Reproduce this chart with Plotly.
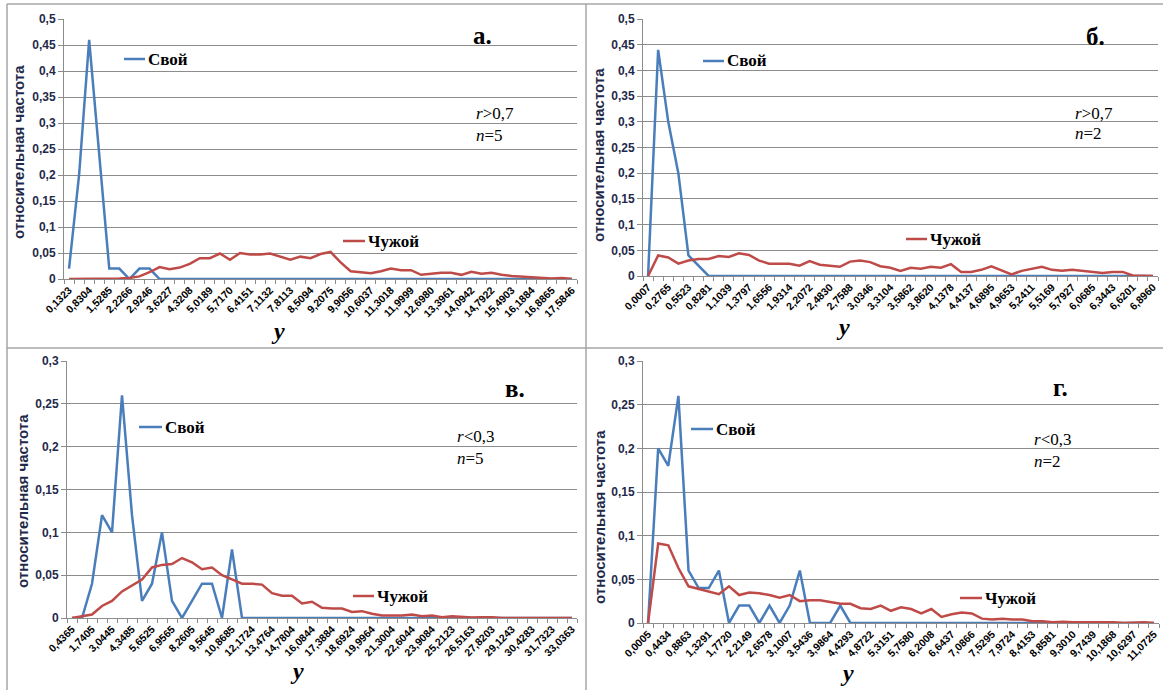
import plotly.graph_objects as go

W, H = 1163, 690

# ---------------- data ----------------
ticks_a = ["0,1323", "0,8304", "1,5285", "2,2266", "2,9246", "3,6227", "4,3208", "5,0189", "5,7170",
           "6,4151", "7,1132", "7,8113", "8,5094", "9,2075", "9,9056", "10,6037", "11,3018", "11,9999",
           "12,6980", "13,3961", "14,0942", "14,7922", "15,4903", "16,1884", "16,8865", "17,5846"]
svoi_a = [0.02, 0.2, 0.46, 0.24, 0.02, 0.02, 0, 0.02, 0.02, 0] + [0] * 41
chuzhoi_a = [0, 0, 0, 0, 0, 0.001, 0.002, 0.005, 0.013, 0.023, 0.019, 0.022, 0.029, 0.04, 0.04, 0.049,
             0.037, 0.05, 0.047, 0.047, 0.049, 0.043, 0.037, 0.043, 0.04, 0.048, 0.052, 0.032, 0.015,
             0.013, 0.011, 0.015, 0.02, 0.017, 0.017, 0.008, 0.01, 0.012, 0.012, 0.008, 0.014, 0.01,
             0.012, 0.008, 0.006, 0.005, 0.004, 0.002, 0.001, 0.002, 0]

ticks_b = ["0,0007", "0,2765", "0,5523", "0,8281", "1,1039", "1,3797", "1,6556", "1,9314", "2,2072",
           "2,4830", "2,7588", "3,0346", "3,3104", "3,5862", "3,8620", "4,1378", "4,4137", "4,6895",
           "4,9653", "5,2411", "5,5169", "5,7927", "6,0685", "6,3443", "6,6201", "6,8960"]
svoi_b = [0, 0.44, 0.3, 0.2, 0.04, 0.02, 0] + [0] * 44
chuzhoi_b = [0, 0.04, 0.036, 0.024, 0.03, 0.033, 0.033, 0.039, 0.037, 0.044, 0.041, 0.03, 0.024, 0.024,
             0.024, 0.02, 0.029, 0.022, 0.02, 0.018, 0.028, 0.03, 0.027, 0.019, 0.016, 0.01, 0.016,
             0.014, 0.018, 0.016, 0.023, 0.008, 0.008, 0.012, 0.019, 0.011, 0.003, 0.01, 0.014, 0.018,
             0.012, 0.01, 0.012, 0.01, 0.008, 0.006, 0.008, 0.008, 0.001, 0.001, 0]

ticks_c = ["0,4365", "1,7405", "3,0445", "4,3485", "5,6525", "6,9565", "8,2605", "9,5645", "10,8685",
           "12,1724", "13,4764", "14,7804", "16,0844", "17,3884", "18,6924", "19,9964", "21,3004",
           "22,6044", "23,9084", "25,2123", "26,5163", "27,8203", "29,1243", "30,4283", "31,7323", "33,0363"]
svoi_c = [0, 0, 0.04, 0.12, 0.1, 0.26, 0.12, 0.02, 0.04, 0.1, 0.02, 0, 0.02, 0.04, 0.04, 0, 0.08, 0] + [0] * 33
chuzhoi_c = [0, 0.002, 0.004, 0.014, 0.02, 0.031, 0.038, 0.045, 0.059, 0.062, 0.063, 0.07, 0.065, 0.057,
             0.059, 0.05, 0.045, 0.04, 0.04, 0.039, 0.029, 0.026, 0.026, 0.017, 0.019, 0.012, 0.011,
             0.011, 0.007, 0.008, 0.005, 0.003, 0.003, 0.003, 0.004, 0.002, 0.003, 0.001, 0.002, 0.001,
             0.0005, 0.001, 0.001] + [0] * 8

ticks_d = ["0,0005", "0,4434", "0,8863", "1,3291", "1,7720", "2,2149", "2,6578", "3,1007", "3,5436",
           "3,9864", "4,4293", "4,8722", "5,3151", "5,7580", "6,2008", "6,6437", "7,0866", "7,5295",
           "7,9724", "8,4153", "8,8581", "9,3010", "9,7439", "10,1868", "10,6297", "11,0725"]
svoi_d = [0, 0.2, 0.18, 0.26, 0.06, 0.04, 0.04, 0.06, 0, 0.02, 0.02, 0, 0.02, 0, 0.02, 0.06, 0, 0, 0,
          0.02, 0] + [0] * 30
chuzhoi_d = [0, 0.091, 0.089, 0.063, 0.042, 0.039, 0.036, 0.033, 0.042, 0.032, 0.035, 0.034, 0.032,
             0.029, 0.032, 0.025, 0.026, 0.026, 0.024, 0.022, 0.022, 0.017, 0.016, 0.02, 0.014, 0.018,
             0.016, 0.011, 0.016, 0.007, 0.01, 0.012, 0.011, 0.005, 0.004, 0.005, 0.004, 0.004, 0.002,
             0.002, 0.001, 0.0015, 0.001, 0.001, 0.001, 0.001, 0.001, 0, 0.0005, 0.001, 0]

yticks_high = [0, 0.05, 0.1, 0.15, 0.2, 0.25, 0.3, 0.35, 0.4, 0.45, 0.5]
yticks_low = [0, 0.05, 0.1, 0.15, 0.2, 0.25, 0.3]

letters = ["а.", "б.", "в.", "г."]
r_texts = ["<i>r</i>&gt;0,7", "<i>r</i>&gt;0,7", "<i>r</i>&lt;0,3", "<i>r</i>&lt;0,3"]
n_texts = ["<i>n</i>=5", "<i>n</i>=2", "<i>n</i>=5", "<i>n</i>=2"]
y_title = "относительная частота"
x_title = "y"
name_svoi = "Свой"
name_chuzhoi = "Чужой"


def categories(labels):
    cats = []
    for k, lab in enumerate(labels):
        cats.append(lab)
        if k < len(labels) - 1:
            a = float(lab.replace(",", "."))
            b = float(labels[k + 1].replace(",", "."))
            cats.append(f"{(a + b) / 2:.4f}".replace(".", ","))
    return cats


def fmt(v):
    return ("%g" % v).replace(".", ",")


def px(x):
    return x / W


def py(y):
    return 1 - y / H


BLUE = "#4A7EBB"
RED = "#BE4B48"
GRID = "#8C8C8C"
AXIS = "#8C8C8C"
NAVY = "#1F2A4A"
SERIF = "Liberation Serif, Times New Roman, DejaVu Serif, serif"
SANS = "Liberation Sans, Arial, DejaVu Sans, sans-serif"

panels = [
    dict(t=ticks_a, s=svoi_a, c=chuzhoi_a, yt_vals=yticks_high, xd=(64, 577), yd=(19, 279),
         leg_s=(124, 145, 59), leg_c=(343, 365, 241), letter=(482, 35), r=(474, 113), n=(474, 135),
         yt=(18, 152), xt=(278, 331)),
    dict(t=ticks_b, s=svoi_b, c=chuzhoi_b, yt_vals=yticks_high, xd=(643, 1158), yd=(19, 276),
         leg_s=(703, 724, 61), leg_c=(906, 927, 239), letter=(1095, 36), r=(1073, 113), n=(1073, 133),
         yt=(598, 155), xt=(843, 327)),
    dict(t=ticks_c, s=svoi_c, c=chuzhoi_c, yt_vals=yticks_low, xd=(67, 577), yd=(361, 618),
         leg_s=(139, 162, 427), leg_c=(353, 374, 596), letter=(515, 388), r=(455, 436), n=(455, 458),
         yt=(22, 501), xt=(297, 671)),
    dict(t=ticks_d, s=svoi_d, c=chuzhoi_d, yt_vals=yticks_low, xd=(643, 1159), yd=(361, 623),
         leg_s=(691, 713, 429), leg_c=(960, 982, 598), letter=(1060, 387), r=(1032, 439), n=(1032, 461),
         yt=(599, 517), xt=(847, 673)),
]

fig = go.Figure()
shapes = []
annotations = []
layout = {}

for k, p in enumerate(panels):
    idx = "" if k == 0 else str(k + 1)
    xa, ya = "x" + idx, "y" + idx
    cats = categories(p["t"])
    fig.add_trace(go.Scatter(x=cats, y=p["s"], mode="lines", name=name_svoi,
                             line=dict(color=BLUE, width=2.5), xaxis=xa, yaxis=ya, showlegend=False))
    fig.add_trace(go.Scatter(x=cats, y=p["c"], mode="lines", name=name_chuzhoi,
                             line=dict(color=RED, width=2.5), xaxis=xa, yaxis=ya, showlegend=False))
    layout["xaxis" + idx] = dict(
        type="category", domain=[px(p["xd"][0]), px(p["xd"][1])], anchor=ya, automargin=False,
        range=[-0.5, len(cats) - 0.5], tickmode="array", tickvals=cats,
        ticktext=["<b>" + c + "</b>" if i % 2 == 0 else "" for i, c in enumerate(cats)],
        tickangle=-45, tickson="boundaries", ticks="outside", ticklen=4, tickcolor=AXIS,
        showgrid=False, showline=True, linecolor=AXIS, linewidth=1, zeroline=False,
        tickfont=dict(family=SANS, size=10.5, color="#000000"),
    )
    yv = p["yt_vals"]
    layout["yaxis" + idx] = dict(
        domain=[py(p["yd"][1]), py(p["yd"][0])], anchor=xa, automargin=False,
        range=[0, yv[-1]], tickmode="array", tickvals=yv, ticktext=["<b>" + fmt(v) + "</b>" for v in yv],
        ticks="outside", ticklen=5, tickcolor=AXIS, showgrid=True, gridcolor=GRID, gridwidth=1,
        showline=True, linecolor=AXIS, linewidth=1, zeroline=False,
        tickfont=dict(family=SANS, size=12, color=NAVY),
    )
    # legend-like labels
    for (x1, x2, yy), col, name in [(p["leg_s"], BLUE, name_svoi), (p["leg_c"], RED, name_chuzhoi)]:
        shapes.append(dict(type="line", xref="paper", yref="paper", x0=px(x1), x1=px(x2),
                           y0=py(yy), y1=py(yy), line=dict(color=col, width=2.5)))
        annotations.append(dict(text="<b>" + name + "</b>", xref="paper", yref="paper", x=px(x2 + 1),
                                y=py(yy), xanchor="left", yanchor="middle", showarrow=False,
                                font=dict(family=SERIF, size=17, color="#000000")))
    annotations.append(dict(text="<b>" + letters[k] + "</b>", xref="paper", yref="paper",
                            x=px(p["letter"][0]), y=py(p["letter"][1]), xanchor="center",
                            yanchor="middle", showarrow=False,
                            font=dict(family=SERIF, size=25, color="#000000")))
    for key, txt in [("r", r_texts[k]), ("n", n_texts[k])]:
        annotations.append(dict(text=txt, xref="paper", yref="paper", x=px(p[key][0]), y=py(p[key][1]),
                                xanchor="left", yanchor="middle", showarrow=False,
                                font=dict(family=SERIF, size=17, color="#000000")))
    annotations.append(dict(text="<b>" + y_title + "</b>", xref="paper", yref="paper",
                            x=px(p["yt"][0]), y=py(p["yt"][1]),
                            xanchor="center", yanchor="middle", textangle=-90, showarrow=False,
                            font=dict(family=SANS, size=15, color=NAVY)))
    annotations.append(dict(text="<b><i>" + x_title + "</i></b>", xref="paper", yref="paper",
                            x=px(p["xt"][0]), y=py(p["xt"][1]),
                            xanchor="center", yanchor="middle", showarrow=False,
                            font=dict(family=SERIF, size=24, color="#000000")))

# frame lines between the four charts
BORDER = "#A6A6A6"
for x0, y0, x1, y1 in [(7, 4, 7, H), (7, 4, W, 4), (586, 4, 586, H), (7, 348, W, 348)]:
    shapes.append(dict(type="line", xref="paper", yref="paper", x0=px(x0), y0=py(y0), x1=px(x1),
                       y1=py(y1), line=dict(color=BORDER, width=1.5)))

fig.update_layout(
    width=W, height=H, margin=dict(l=0, r=0, t=0, b=0, autoexpand=False),
    paper_bgcolor="white", plot_bgcolor="white", separators=", ",
    showlegend=False, shapes=shapes, annotations=annotations, **layout,
)

fig.write_html("out.html")
